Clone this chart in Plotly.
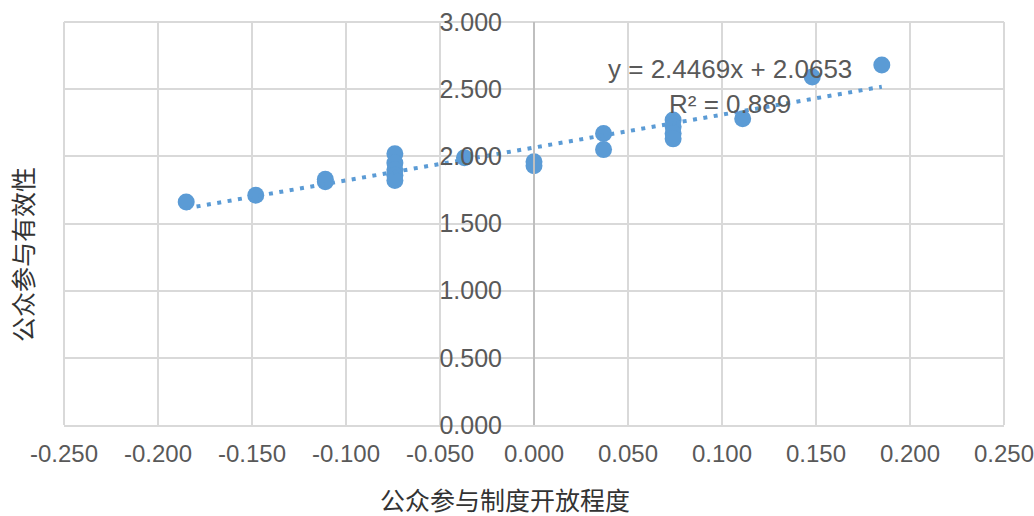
import plotly.graph_objects as go

# Openness of public-participation system (x) vs. participation effectiveness (y)
openness = [-0.185, -0.148, -0.111, -0.111,
            -0.074, -0.074, -0.074, -0.074, -0.074,
            -0.037, 0.000, 0.000, 0.037, 0.037,
            0.074, 0.074, 0.074, 0.074,
            0.111, 0.148, 0.185]
effectiveness = [1.66, 1.71, 1.81, 1.83,
                 2.02, 1.95, 1.90, 1.86, 1.82,
                 1.99, 1.96, 1.93, 2.17, 2.05,
                 2.27, 2.22, 2.17, 2.13,
                 2.28, 2.59, 2.68]

# Linear trend line reported on the chart
slope = 2.4469
intercept = 2.0653
r_squared = 0.889

x_ticks = [-0.25, -0.2, -0.15, -0.1, -0.05, 0.0, 0.05, 0.1, 0.15, 0.2, 0.25]
y_ticks = [0.0, 0.5, 1.0, 1.5, 2.0, 2.5, 3.0]
x_title = "公众参与制度开放程度"
y_title = "公众参与有效性"

BLUE = "#5B9BD5"
GRID = "#D9D9D9"
X_TICK_FONT = dict(family="Liberation Sans, Arial, sans-serif", size=24, color="#595959")
Y_TICK_FONT = dict(family="Liberation Sans, Arial, sans-serif", size=25, color="#595959")
CJK_FONT = dict(family="Noto Sans CJK SC, sans-serif", size=25, color="#333333")

# plot-area geometry in pixels
W, H = 1034, 516
ML, MR, MT, MB = 64, 30, 22, 91
plot_w = W - ML - MR
plot_h = H - MT - MB


def px_to_paper(px, py):
    return (px - ML) / plot_w, (H - MB - py) / plot_h


fig = go.Figure()

fig.add_trace(go.Scatter(
    x=openness, y=effectiveness, mode="markers",
    marker=dict(color=BLUE, size=17, line=dict(width=0)),
    showlegend=False, cliponaxis=False,
))

x_lo, x_hi = min(openness), max(openness)
fig.add_trace(go.Scatter(
    x=[x_lo, x_hi],
    y=[slope * x_lo + intercept, slope * x_hi + intercept],
    mode="lines",
    line=dict(color=BLUE, width=4, dash="4px,6.5px"),
    showlegend=False,
))

xt_x, xt_y = px_to_paper(505, 499)
yt_x, yt_y = px_to_paper(22, 255)

fig.update_layout(
    width=W, height=H,
    margin=dict(l=ML, r=MR, t=MT, b=MB, autoexpand=False),
    paper_bgcolor="white", plot_bgcolor="white",
    xaxis=dict(
        range=[-0.25, 0.2500001], tickvals=x_ticks,
        ticktext=[f"{v:.3f}" for v in x_ticks],
        showgrid=True, gridcolor=GRID, gridwidth=2,
        zeroline=False, showline=True, linecolor=GRID, linewidth=2,
        ticks="", tickfont=X_TICK_FONT, ticklabelstandoff=6,
        ticklabeloverflow="allow", automargin=False,
    ),
    yaxis=dict(
        range=[0, 3.0000001], tickvals=y_ticks,
        ticktext=[f"{v:.3f}" for v in y_ticks],
        anchor="free", position=0.5,
        showgrid=True, gridcolor=GRID, gridwidth=2,
        zeroline=False, showline=True, linecolor="#BFBFBF", linewidth=2,
        ticks="", tickfont=Y_TICK_FONT, ticklabelstandoff=26,
        ticklabeloverflow="allow", automargin=False,
    ),
    shapes=[
        dict(type="line", xref="paper", yref="paper", x0=0, x1=1, y0=1, y1=1,
             line=dict(color=GRID, width=2), layer="below"),
        dict(type="line", xref="paper", yref="paper", x0=0, x1=0, y0=0, y1=1,
             line=dict(color=GRID, width=2), layer="below"),
        dict(type="line", xref="paper", yref="paper", x0=1, x1=1, y0=0, y1=1,
             line=dict(color=GRID, width=2), layer="below"),
    ],
    annotations=[
        dict(text=f"y = {slope}x + {intercept}", x=0.104, y=2.65,
             xref="x", yref="y", showarrow=False, xanchor="center", yanchor="middle",
             font=dict(family="Liberation Sans, Arial, sans-serif", size=26, color="#595959")),
        dict(text=f"R² = {r_squared}", x=0.104, y=2.39,
             xref="x", yref="y", showarrow=False, xanchor="center", yanchor="middle",
             font=dict(family="Liberation Sans, Arial, sans-serif", size=26, color="#595959")),
        dict(text=x_title, x=xt_x, y=xt_y, xref="paper", yref="paper",
             xanchor="center", yanchor="middle", showarrow=False, font=CJK_FONT),
        dict(text=y_title, textangle=-90, x=yt_x, y=yt_y, xref="paper", yref="paper",
             xanchor="center", yanchor="middle", showarrow=False, font=CJK_FONT),
    ],
)

fig.write_html("out.html")
